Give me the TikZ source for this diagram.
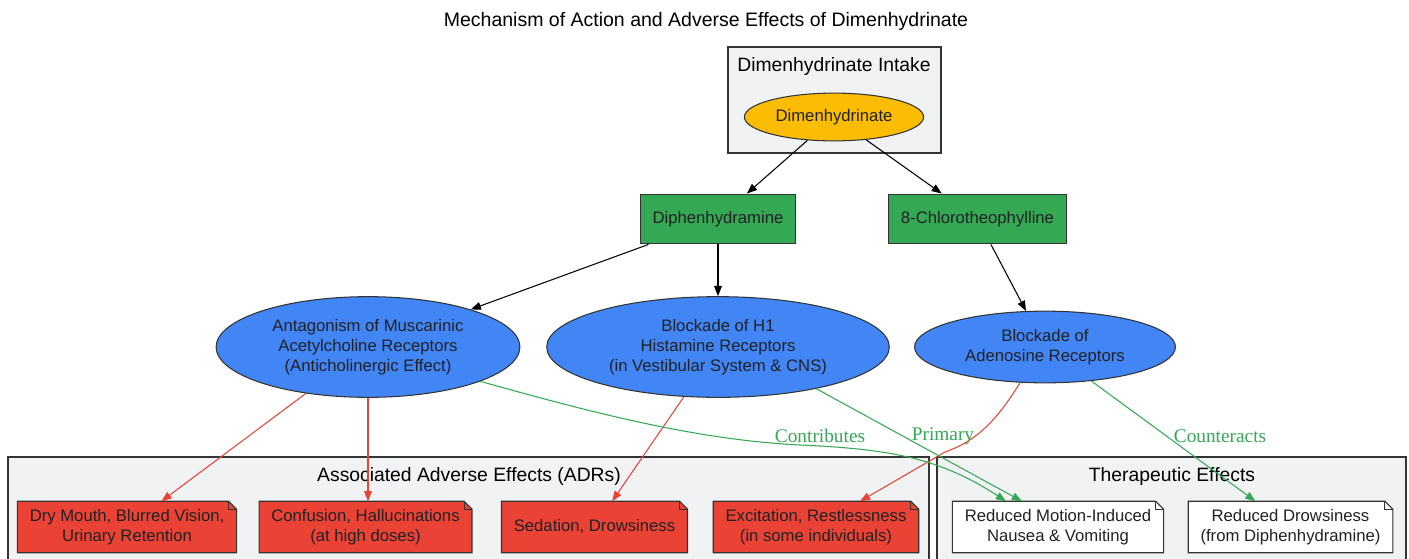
\documentclass[tikz,border=0pt]{standalone}
\usepackage{fontspec}
\setmainfont{Liberation Sans}
\newfontfamily\labelfont{Liberation Serif}
\usetikzlibrary{calc,positioning,shapes,arrows.meta}

\definecolor{clusterfill}{HTML}{F1F2F4}
\definecolor{clusterline}{HTML}{333333}
\definecolor{drugyellow}{HTML}{FBBC04}
\definecolor{druggreen}{HTML}{34A853}
\definecolor{effectblue}{HTML}{4285F4}
\definecolor{adrred}{HTML}{EA4335}
\definecolor{nodetext}{HTML}{202124}

\newcommand{\nodefont}{\fontsize{9.5}{11.3}\selectfont}
\newcommand{\clusterfont}{\fontsize{11}{13}\selectfont}
\newcommand{\foldnote}[1]{%
  \fill[clusterfill] ([xshift=-4.5pt]#1.north east) -- (#1.north east) -- ([yshift=-4.5pt]#1.north east) -- cycle;
  \draw[noteline] (#1.south west) -- (#1.north west) -- ([xshift=-4.5pt]#1.north east)
    -- ([yshift=-4.5pt]#1.north east) -- (#1.south east) -- cycle;
  \draw[noteline] ([xshift=-4.5pt]#1.north east) |- ([yshift=-4.5pt]#1.north east);}

\tikzset{
  cluster/.style={draw=clusterline, fill=clusterfill, line width=0.7pt},
  clusterlabel/.style={font=\clusterfont, text=black},
  drug/.style={ellipse, draw=clusterline, fill=drugyellow, line width=0.6pt, inner sep=0pt,
    minimum width=102pt, minimum height=27.2pt, font=\nodefont, text=nodetext},
  compound/.style={rectangle, draw=clusterline, fill=druggreen, line width=0.6pt, inner sep=0pt,
    minimum height=28.35pt, font=\nodefont, text=nodetext},
  mech/.style={ellipse, draw=clusterline, fill=effectblue, line width=0.6pt, inner sep=0pt,
    align=center, font=\nodefont, text=nodetext},
  notebox/.style={rectangle, fill=#1, minimum height=28.9pt, inner xsep=6.8pt,
    align=center, font=\nodefont, text=nodetext},
  noteline/.style={draw=clusterline, line width=0.6pt},
  arr/.style={-{Triangle[length=5.8pt,width=4.4pt]}, line width=0.6pt},
  adr/.style={arr, draw=adrred, -{Triangle[length=5.8pt,width=4.4pt,fill=adrred]}},
  ther/.style={arr, draw=druggreen},
  elabel/.style={font=\labelfont\fontsize{11}{13}\selectfont, text=druggreen}
}

\begin{document}
\begin{tikzpicture}[x=0.02cm, y=-0.02cm]
\useasboundingbox (0,0) rectangle (1409,558);
\node[font=\fontsize{11.1}{13}\selectfont] (title) at (706,21) {Mechanism of Action and Adverse Effects of Dimenhydrinate};

\draw[cluster] (728,47) rectangle (941,153);
\node[clusterlabel] (intake) at (834,66) {Dimenhydrinate Intake};
\draw[cluster] (8,457) rectangle (929,575);
\node[clusterlabel] (adrs) at (469,476) {Associated Adverse Effects (ADRs)};
\draw[cluster] (937,457) rectangle (1406,575);
\node[clusterlabel] (therapy) at (1172,476) {Therapeutic Effects};

\node[drug] (dimen) at (834,117) {Dimenhydrinate};
\node[compound, minimum width=88.5pt] (diph) at (718,219) {Diphenhydramine};
\node[compound, minimum width=101.5pt] (chloro) at (977.5,219) {8-Chlorotheophylline};

\node[mech, minimum width=172.9pt, minimum height=57.3pt] (anta) at (368,347)
  {Antagonism of Muscarinic\\Acetylcholine Receptors\\(Anticholinergic Effect)};
\node[mech, minimum width=195pt, minimum height=57.3pt] (h1) at (718,347)
  {Blockade of H1\\Histamine Receptors\\(in Vestibular System \& CNS)};
\node[mech, minimum width=148.5pt, minimum height=40.8pt] (aden) at (1045,347)
  {Blockade of\\Adenosine Receptors};

\node[notebox=adrred] (dry) at (127,527) {Dry Mouth, Blurred Vision,\\Urinary Retention};
\node[notebox=adrred] (conf) at (365.5,527) {Confusion, Hallucinations\\(at high doses)};
\node[notebox=adrred] (sed) at (594.5,527) {Sedation, Drowsiness};
\node[notebox=adrred] (exc) at (816,527) {Excitation, Restlessness\\(in some individuals)};
\node[notebox=white] (motion) at (1058,527) {Reduced Motion-Induced\\Nausea \& Vomiting};
\node[notebox=white] (drowsy) at (1290.5,527) {Reduced Drowsiness\\(from Diphenhydramine)};
\foldnote{dry}
\foldnote{conf}
\foldnote{sed}
\foldnote{exc}
\foldnote{motion}
\foldnote{drowsy}

\draw[arr] (dimen) -- (diph);
\draw[arr] (dimen) -- (chloro);
\draw[arr] (diph) -- (anta);
\draw[arr] (diph) -- (h1);
\draw[arr] (chloro) -- (aden);

\draw[adr] (anta) -- (dry);
\draw[adr] (anta.south) -- (anta.south |- conf.north);
\draw[adr] (h1) -- (sed);
\draw[adr] (aden.-125) .. controls (1000,415) and (980,440) .. (945,452) -- ($(exc.north)+(44,0)$);

\draw[ther] (anta.-17) .. controls (600,415) and (700,440) .. (800,445)
  .. controls (890,449) and (940,458) .. ($(motion.north)+(-52,0)$);
\draw[ther] (h1.-23) -- ($(motion.north)+(-36,0)$);
\draw[ther] (aden) -- (drowsy);

\node[elabel] (lcontrib) at (820,436) {Contributes};
\node[elabel] (lprimary) at (943,436) {Primary};
\node[elabel] (lcounter) at (1220,436) {Counteracts};
\end{tikzpicture}
\end{document}
